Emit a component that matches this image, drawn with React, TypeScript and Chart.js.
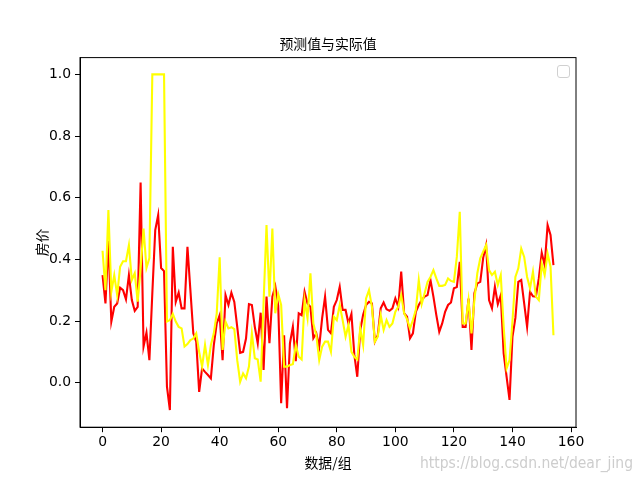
import React, { useEffect, useRef } from "react";
import { Chart, registerables } from "chart.js";

Chart.register(...registerables);

const chartTitle = "预测值与实际值";
const xAxisLabel = "数据/组";
const yAxisLabel = "房价";
const watermark = "https://blog.csdn.net/dear_jing";

const xTicks = [0, 20, 40, 60, 80, 100, 120, 140, 160];
const yTicks = [0, 0.2, 0.4, 0.6, 0.8, 1.0];

const redSeries = [
  0.349, 0.257, 0.46, 0.198, 0.246, 0.257, 0.308, 0.3, 0.27, 0.349,
  0.268, 0.233, 0.246, 0.649, 0.117, 0.162, 0.073, 0.29, 0.495, 0.544,
  0.372, 0.362, -0.013, -0.089, 0.441, 0.262, 0.292, 0.241, 0.241, 0.441,
  0.3, 0.16, 0.133, -0.03, 0.046, 0.035, 0.025, 0.014, 0.122, 0.192,
  0.219, 0.073, 0.284, 0.252, 0.292, 0.262, 0.181, 0.097, 0.1, 0.143,
  0.255, 0.252, 0.181, 0.128, 0.227, 0.041, 0.279, 0.128, 0.279, 0.313,
  0.25, -0.067, 0.154, -0.083, 0.128, 0.181, 0.07, 0.225, 0.219, 0.295,
  0.257, 0.246, 0.144, 0.16, 0.117, 0.209, 0.279, 0.171, 0.16, 0.246,
  0.268, 0.311, 0.236, 0.236, 0.192, 0.223, 0.09, 0.019, 0.17, 0.22,
  0.252, 0.262, 0.257, 0.133, 0.154, 0.241, 0.26, 0.238, 0.233, 0.241,
  0.273, 0.246, 0.36, 0.225, 0.214, 0.144, 0.16, 0.23, 0.252, 0.268,
  0.279, 0.284, 0.333, 0.279, 0.219, 0.165, 0.192, 0.23, 0.252, 0.26,
  0.306, 0.31, 0.392, 0.181, 0.181, 0.273, 0.106, 0.29, 0.322, 0.327,
  0.405, 0.446, 0.268, 0.241, 0.311, 0.255, 0.284, 0.095, 0.019, -0.056,
  0.149, 0.21, 0.327, 0.333, 0.257, 0.181, 0.295, 0.28, 0.279, 0.338,
  0.421, 0.381, 0.511, 0.479, 0.381,
];

const yellowSeries = [
  0.428, 0.3, 0.56, 0.295, 0.349, 0.284, 0.376, 0.394, 0.394, 0.446,
  0.333, 0.355, 0.263, 0.37, 0.5, 0.372, 0.404, 1.0, 1.0, 1.0,
  1.0, 1.0, 0.198, 0.203, 0.223, 0.198, 0.181, 0.176, 0.117, 0.125,
  0.138, 0.143, 0.16, 0.1, 0.052, 0.122, 0.057, 0.122, 0.16, 0.225,
  0.407, 0.106, 0.198, 0.176, 0.18, 0.174, 0.073, 0.003, 0.03, 0.014,
  0.052, 0.16, 0.079, 0.075, 0.003, 0.26, 0.511, 0.279, 0.5, 0.225,
  0.287, 0.252, 0.052, 0.052, 0.057, 0.06, 0.122, 0.084, 0.075, 0.268,
  0.209, 0.355, 0.192, 0.154, 0.073, 0.117, 0.133, 0.133, 0.1, 0.214,
  0.203, 0.252, 0.203, 0.149, 0.187, 0.1, 0.084, 0.075, 0.176, 0.122,
  0.273, 0.3, 0.246, 0.133, 0.149, 0.219, 0.171, 0.203, 0.181, 0.192,
  0.23, 0.246, 0.284, 0.225, 0.206, 0.176, 0.203, 0.236, 0.333, 0.255,
  0.29, 0.327, 0.343, 0.365, 0.338, 0.314, 0.314, 0.317, 0.338, 0.33,
  0.327, 0.408, 0.554, 0.192, 0.192, 0.268, 0.16, 0.268, 0.355, 0.403,
  0.425, 0.446, 0.365, 0.349, 0.36, 0.317, 0.349, 0.181, 0.046, 0.073,
  0.2, 0.343, 0.371, 0.435, 0.408, 0.343, 0.306, 0.36, 0.279, 0.268,
  0.386, 0.349, 0.419, 0.376, 0.154,
];

const tickFont = { family: "DejaVu Sans", size: 13.9 };
const cjkFont = '13.9px "Noto Sans CJK SC"';

const decorPlugin = {
  id: "decor",
  afterDraw(chart: any) {
    const ctx = chart.ctx;
    const a = chart.chartArea;
    ctx.save();
    // spines
    ctx.strokeStyle = "#000";
    ctx.lineWidth = 1;
    ctx.strokeRect(a.left, a.top, a.right - a.left, a.bottom - a.top);
    // title
    ctx.fillStyle = "#000";
    ctx.font = cjkFont;
    ctx.textAlign = "center";
    ctx.textBaseline = "alphabetic";
    ctx.fillText(chartTitle, (a.left + a.right) / 2, 49);
    // x label
    ctx.fillText(xAxisLabel, (a.left + a.right) / 2, 468);
    // y label
    ctx.save();
    ctx.translate(42, (a.top + a.bottom) / 2);
    ctx.rotate(-Math.PI / 2);
    ctx.textBaseline = "middle";
    ctx.fillText(yAxisLabel, 0, 0);
    ctx.restore();
    // empty legend box
    ctx.strokeStyle = "#d0d0d0";
    ctx.fillStyle = "rgba(255,255,255,0.8)";
    ctx.beginPath();
    const lx = 557.5, ly = 65.5, lw = 12, lh = 12, r = 2.5;
    ctx.moveTo(lx + r, ly);
    ctx.lineTo(lx + lw - r, ly);
    ctx.quadraticCurveTo(lx + lw, ly, lx + lw, ly + r);
    ctx.lineTo(lx + lw, ly + lh - r);
    ctx.quadraticCurveTo(lx + lw, ly + lh, lx + lw - r, ly + lh);
    ctx.lineTo(lx + r, ly + lh);
    ctx.quadraticCurveTo(lx, ly + lh, lx, ly + lh - r);
    ctx.lineTo(lx, ly + r);
    ctx.quadraticCurveTo(lx, ly, lx + r, ly);
    ctx.closePath();
    ctx.fill();
    ctx.stroke();
    // watermark
    ctx.fillStyle = "rgba(200,200,200,0.9)";
    ctx.font = '15px "DejaVu Sans"';
    ctx.textAlign = "left";
    ctx.fillText(watermark, 420, 468, 213);
    ctx.restore();
  },
};

export default function App() {
  const ref = useRef<HTMLCanvasElement>(null);
  useEffect(() => {
    if (!ref.current) return;
    const chart = new Chart(ref.current, {
      type: "line",
      data: {
        datasets: [
          {
            data: yellowSeries.map((v, i) => ({ x: i, y: v })),
            borderColor: "#ffff00",
            borderWidth: 2.1,
            pointRadius: 0,
            tension: 0,
            fill: false,
          },
          {
            data: redSeries.map((v, i) => ({ x: i, y: v })),
            borderColor: "#ff0000",
            borderWidth: 2.1,
            pointRadius: 0,
            tension: 0,
            fill: false,
          },
        ],
      },
      options: {
        animation: false,
        responsive: false,
        devicePixelRatio: 1,
        layout: { padding: { top: 57.6, right: 64, left: 0, bottom: 0 } },
        plugins: { legend: { display: false }, tooltip: { enabled: false }, title: { display: false } },
        scales: {
          x: {
            type: "linear",
            min: -7.7,
            max: 161.7,
            afterFit: (s: any) => { s.height = 52.8; },
            afterBuildTicks: (s: any) => { s.ticks = xTicks.map((v) => ({ value: v })); },
            ticks: { font: tickFont, color: "#000", padding: 2, maxRotation: 0, callback: (v: any) => String(v) },
            grid: { drawOnChartArea: false, drawTicks: true, tickLength: 5, color: "#000" },
            border: { display: true, color: "#000" },
          },
          y: {
            type: "linear",
            min: -0.1445,
            max: 1.0545,
            afterFit: (s: any) => { s.width = 80; },
            afterBuildTicks: (s: any) => { s.ticks = yTicks.map((v) => ({ value: v })); },
            ticks: { font: tickFont, color: "#000", padding: 4, callback: (v: any) => Number(v).toFixed(1) },
            grid: { drawOnChartArea: false, drawTicks: true, tickLength: 5, color: "#000" },
            border: { display: true, color: "#000" },
          },
        },
      },
      plugins: [decorPlugin],
    });
    return () => chart.destroy();
  }, []);
  return (
    <div style={{ position: "absolute", left: 0, top: 0, width: 640, height: 480, background: "#fff" }}>
      <canvas ref={ref} width={640} height={480} />
    </div>
  );
}
